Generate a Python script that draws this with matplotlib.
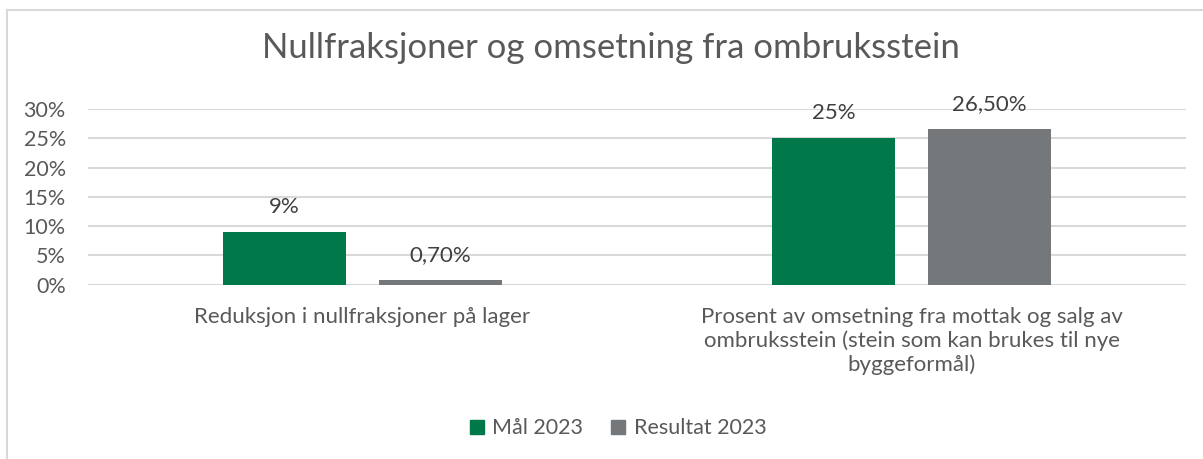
import numpy as np
import matplotlib.pyplot as plt
from matplotlib.lines import Line2D
from matplotlib.patches import Patch

plt.rcParams['font.family'] = ['Lato', 'DejaVu Sans']

categories = ["Reduksjon i nullfraksjoner på lager",
              "Prosent av omsetning fra mottak og salg av\nombruksstein (stein som kan brukes til nye\nbyggeformål)"]
series_names = ["Mål 2023", "Resultat 2023"]
maal = [9, 25]
resultat = [0.7, 26.5]
maal_labels = ["9%", "25%"]
resultat_labels = ["0,70%", "26,50%"]
yticks = [0, 5, 10, 15, 20, 25, 30]

green = "#00784A"
grey = "#75787B"
text_col = "#595959"

fig = plt.figure(figsize=(12.03, 4.59), dpi=100)
ax = fig.add_axes([0.0732, 0.380, 0.9127, 0.3825])

x = np.arange(len(categories))
w = 0.224
off = 0.142
b1 = ax.bar(x - off, maal, w, color=green, zorder=3)
b2 = ax.bar(x + off, resultat, w, color=grey, zorder=3)
ax.bar_label(b1, labels=maal_labels, padding=11, fontsize=16, color="#404040")
ax.bar_label(b2, labels=resultat_labels, padding=11, fontsize=16, color="#404040")

ax.set_xlim(-0.5, 1.5)
ax.set_ylim(0, 30)
ax.set_yticks(yticks)
ax.set_yticklabels([f"{t}%" for t in yticks])
ax.set_xticks(x)
ax.set_xticklabels(categories, linespacing=1.22)
ax.tick_params(axis="y", length=0, labelsize=15.5, labelcolor=text_col, pad=16)
ax.tick_params(axis="x", length=0, labelsize=16, labelcolor=text_col, pad=16)
ax.grid(axis="y", color="#D9D9D9", linewidth=1.5, zorder=0)
for s in ax.spines.values():
    s.set_visible(False)

fig.suptitle("Nullfraksjoner og omsetning fra ombruksstein", x=0.508, y=0.93,
             fontsize=25, color=text_col)

handles = [Patch(color=green), Patch(color=grey)]
fig.legend(handles, series_names, loc="center", bbox_to_anchor=(0.514, 0.067), ncol=2,
           frameon=False, fontsize=15.5, labelcolor=text_col, handlelength=0.65,
           handleheight=0.65, handletextpad=0.4, columnspacing=1.3)

# chart border (cropped at right and bottom)
fig.add_artist(Line2D([7 / 1203, 1], [1 - 10 / 459, 1 - 10 / 459], color="#D9D9D9", lw=1.5))
fig.add_artist(Line2D([7 / 1203, 7 / 1203], [0, 1 - 10 / 459], color="#D9D9D9", lw=1.5))

fig.savefig("out.png", dpi=100)
